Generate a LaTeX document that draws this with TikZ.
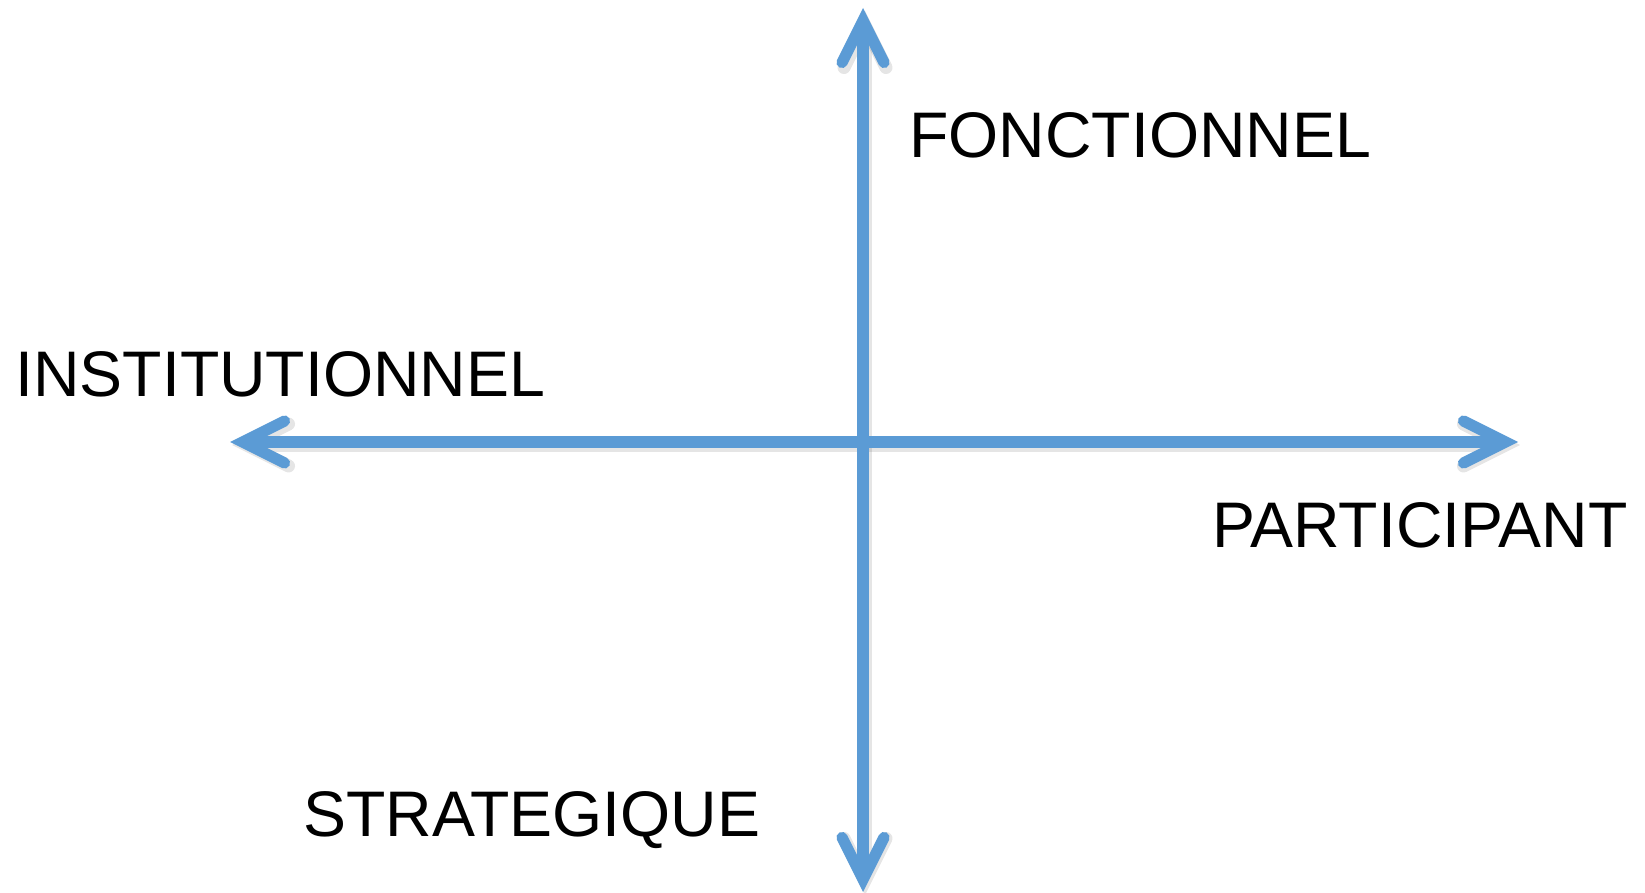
\documentclass[tikz,border=0pt]{standalone}
\usepackage{fontspec}
\setmainfont{Liberation Sans}
\usetikzlibrary{arrows.meta}
\definecolor{axisblue}{HTML}{5B9BD5}
\tikzset{>={Straight Barb[length=21pt,width=21pt,line cap=round,line join=miter]}}
\tikzstyle{axisline}=[draw=axisblue,line width=5.6pt,<->]
\tikzstyle{axisshadow}=[draw=black,opacity=0.10,line width=6.5pt,<->,transform canvas={shift={(2,3)}}]
\tikzstyle{axislabel}=[anchor=base west,inner sep=0pt,font=\fontsize{32.2}{36}\selectfont]

\begin{document}
\begin{tikzpicture}[x=0.5pt,y=-0.5pt]
    \useasboundingbox (0,0) rectangle (1645,893);
    % First we place the ends of the two axes
    \foreach \x/\y/\name in {230/442/west, 1518/442/east, 863/8/north, 863/892/south}
        \coordinate (\name) at (\x,\y);

    % Draw the axes, shadow first
    \foreach \source/ \dest in {west/east, south/north}
        \path[axisshadow] (\source) -- (\dest) ;
    \foreach \source/ \dest in {west/east, south/north}
        \path[axisline] (\source) -- (\dest) ;

    % The four poles
    \foreach \x/\y/\name/\txt in {909/158/fonct/FONCTIONNEL, 15/396/instit/INSTITUTIONNEL, 1212/547/partic/PARTICIPANT, 303/836/strat/STRATEGIQUE}
        \node[axislabel] (\name) at (\x,\y) {\txt};

\end{tikzpicture}
\end{document}
